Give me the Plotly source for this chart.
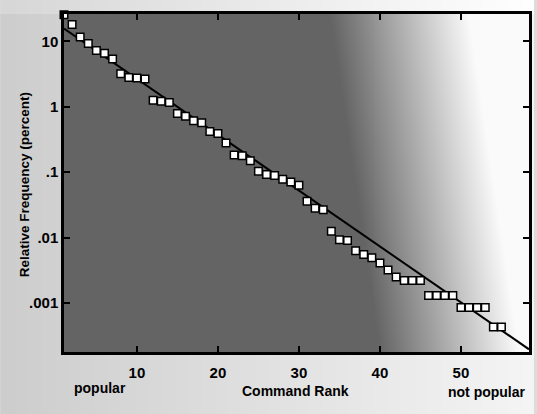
import base64
import struct
import zlib

import plotly.graph_objects as go

# ---------------- data ----------------
command_rank = list(range(1, 56))
relative_freq = [
    25.7, 18.1, 11.7, 9.3, 7.3, 6.6, 5.4, 3.2, 2.8, 2.75, 2.67,
    1.26, 1.22, 1.17,
    0.79, 0.72, 0.61, 0.57, 0.42, 0.39, 0.28,
    0.184, 0.178, 0.15,
    0.103, 0.092, 0.089, 0.078, 0.071, 0.063,
    0.036, 0.028, 0.0267,
    0.0125, 0.0093, 0.009, 0.0063, 0.0055, 0.0049, 0.0041, 0.0032, 0.0025,
    0.0022, 0.0022, 0.0022,
    0.0013, 0.0013, 0.0013, 0.0013,
    0.00085, 0.00085, 0.00085, 0.00085,
    0.00043, 0.00043,
]
# straight-line fit on the log scale: freq = fit_start * 10**(-fit_slope*(rank-1))
fit_rank = [1, 58.4]
fit_start = 15.8
fit_slope = 0.0855
fit_freq = [fit_start * 10 ** (-fit_slope * (r - 1)) for r in fit_rank]

x_tick_vals = [10, 20, 30, 40, 50]
x_tick_text = ["10", "20", "30", "40", "50"]
y_tick_vals = [10, 1, 0.1, 0.01, 0.001]
y_tick_text = ["10", "1", ".1", ".01", ".001"]

# ---------------- layout geometry ----------------
W, H = 537, 414
ML, MR, MT, MB = 64, 5, 14, 62
PL, PR, PT, PB = ML, W - MR, MT, H - MB
PW, PH = PR - PL, PB - PT


def bg_png():
    rows = []
    for Y in range(H):
        row = bytearray([0])
        inside_y = PT <= Y <= PB
        x0 = 330 + 0.15 * (Y - PT)
        for X in range(W):
            if inside_y and PL <= X <= PR:
                t = (X - x0) / 140.0
                t = 0.0 if t < 0 else (1.0 if t > 1 else t)
                v = 100 + (250 - 100) * t
            else:
                v = 205 + 40 * (X / W)
                if Y < PT:
                    v += 10
            row.append(int(min(255, v)))
        rows.append(bytes(row))
    raw = b"".join(rows)

    def chunk(tag, data):
        c = struct.pack(">I", len(data)) + tag + data
        return c + struct.pack(">I", zlib.crc32(tag + data) & 0xFFFFFFFF)

    png = b"\x89PNG\r\n\x1a\n"
    png += chunk(b"IHDR", struct.pack(">IIBBBBB", W, H, 8, 0, 0, 0, 0))
    png += chunk(b"IDAT", zlib.compress(raw, 9))
    png += chunk(b"IEND", b"")
    return "data:image/png;base64," + base64.b64encode(png).decode()


FONT = "Liberation Sans, Arial, sans-serif"

fig = go.Figure()
fig.add_trace(go.Scatter(
    x=fit_rank, y=fit_freq, mode="lines",
    line=dict(color="black", width=2), hoverinfo="skip", showlegend=False,
))
fig.add_trace(go.Scatter(
    x=command_rank, y=relative_freq, mode="markers",
    marker=dict(symbol="square", size=7.5, color="white",
                line=dict(color="black", width=1.5)),
    cliponaxis=False, showlegend=False,
))

fig.update_xaxes(
    range=[1, 58.4], tickvals=x_tick_vals, ticktext=x_tick_text,
    ticks="inside", ticklen=6, tickwidth=1.5, tickcolor="black",
    showline=True, linecolor="black", linewidth=2.5, mirror="allticks",
    showgrid=False, zeroline=False,
    tickfont=dict(family=FONT, size=15, color="black", weight="bold"),
    ticklabelstandoff=5,
)
fig.update_yaxes(
    type="log", range=[-3.75, 1.42], tickvals=y_tick_vals, ticktext=y_tick_text,
    ticks="inside", ticklen=6, tickwidth=1.5, tickcolor="black",
    showline=True, linecolor="black", linewidth=2.5, mirror="allticks",
    showgrid=False, zeroline=False,
    tickfont=dict(family=FONT, size=15, color="black", weight="bold"),
)


def px_x(X):
    return (X - PL) / PW


def px_y(Y):
    return (PB - Y) / PH


ann_font = dict(family=FONT, size=14, color="black", weight="bold")
fig.update_layout(
    width=W, height=H,
    margin=dict(l=ML, r=MR, t=MT, b=MB),
    paper_bgcolor="#dcdcdc", plot_bgcolor="rgba(0,0,0,0)",
    images=[dict(
        source=bg_png(), xref="paper", yref="paper",
        x=px_x(0), y=px_y(0), sizex=W / PW, sizey=H / PH,
        xanchor="left", yanchor="top", sizing="stretch", layer="below",
    )],
    annotations=[
        dict(text="popular", x=px_x(100), y=px_y(388), xref="paper", yref="paper",
             showarrow=False, font=ann_font, xanchor="center", yanchor="middle"),
        dict(text="Command Rank", x=px_x(297), y=px_y(391), xref="paper", yref="paper",
             showarrow=False, font=ann_font, xanchor="center", yanchor="middle"),
        dict(text="not popular", x=px_x(490), y=px_y(392), xref="paper", yref="paper",
             showarrow=False, font=ann_font, xanchor="center", yanchor="middle"),
        dict(text="Relative Frequency (percent)", x=px_x(24), y=px_y(185),
             xref="paper", yref="paper", showarrow=False, textangle=-90,
             font=dict(family=FONT, size=13.5, color="black", weight="bold"),
             xanchor="center", yanchor="middle"),
    ],
)

fig.write_html(
    "out.html",
    config={"displayModeBar": False},
    post_script="document.body.style.margin='0';document.body.style.overflow='hidden';",
)
